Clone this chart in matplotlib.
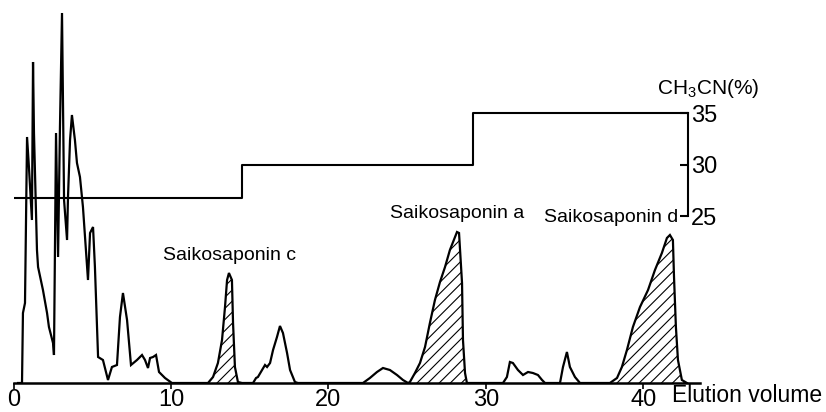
import matplotlib
matplotlib.use("Agg")
import matplotlib.pyplot as plt
import numpy as np

plt.rcParams.update({
    "font.family": ["Liberation Sans", "DejaVu Sans"],
    "mathtext.fontset": "custom",
    "mathtext.rm": "Liberation Sans",
    "hatch.linewidth": 0.8,
})
NARROW = ["Liberation Sans Narrow", "Liberation Sans", "DejaVu Sans"]

# --- chromatogram segments (elution volume, detector response) ---
early_vol = [0.29, 0.54, 0.60, 0.73, 0.86, 0.98, 1.17, 1.24, 1.30, 1.49, 1.56, 1.87,
             2.13, 2.25, 2.51, 2.57, 2.70, 2.83, 2.95, 3.08, 3.21, 3.40, 3.46, 3.59,
             3.71, 3.90, 4.03, 4.22, 4.41, 4.73, 4.86, 5.05, 5.17, 5.37, 5.68, 6.00,
             6.25, 6.57, 6.76, 6.95, 7.21, 7.46, 7.84, 8.16, 8.35, 8.54, 8.67, 8.86,
             9.05, 9.24, 9.62, 10.06]
early_int = [0, 0, 70, 80, 246, 216, 163, 321, 250, 133, 116, 93,
             70, 56, 40, 28, 250, 126, 256, 370, 183, 143, 186, 243,
             268, 243, 220, 206, 176, 103, 150, 156, 116, 26, 23, 3,
             16, 18, 66, 90, 63, 18, 23, 28, 23, 15, 25, 26,
             28, 11, 5, 0]

sc_vol = [12.35, 12.67, 12.98, 13.24, 13.43, 13.56, 13.68, 13.87, 13.94, 14.06, 14.25, 14.51]
sc_int = [0, 6, 20, 43, 76, 103, 110, 103, 60, 16, 1, 0]

p17_vol = [15.21, 15.40, 15.52, 15.78, 15.97, 16.10, 16.29, 16.48, 16.73, 16.92,
           17.11, 17.37, 17.56, 17.87, 18.06]
p17_int = [0, 5, 6, 13, 18, 16, 20, 33, 46, 57, 50, 30, 13, 1, 0]

p23_vol = [22.19, 22.63, 23.08, 23.46, 23.90, 24.35, 24.73, 25.05]
p23_int = [0, 5, 11, 15, 13, 8, 3, 0]

sa_vol = [25.05, 25.17, 25.49, 25.81, 26.13, 26.44, 26.76, 27.08, 27.40, 27.71,
          28.03, 28.16, 28.29, 28.48, 28.54, 28.67, 28.79]
sa_int = [0, 1, 10, 20, 36, 60, 83, 101, 116, 133, 146, 151, 150, 100, 43, 10, 0]

p32_vol = [31.08, 31.33, 31.52, 31.71, 32.03, 32.35, 32.67, 32.98, 33.30, 33.56, 33.75]
p32_int = [0, 6, 21, 20, 13, 8, 11, 10, 8, 3, 0]

p35_vol = [34.70, 34.89, 35.14, 35.33, 35.65, 35.97]
p35_int = [0, 16, 31, 16, 6, 0]

sd_vol = [37.87, 38.32, 38.63, 38.95, 39.33, 39.78, 40.29, 40.73, 41.17, 41.49,
          41.68, 41.87, 41.94, 42.06, 42.19, 42.44, 42.76]
sd_int = [0, 5, 16, 33, 56, 76, 93, 113, 130, 145, 148, 143, 106, 56, 23, 3, 0]

# --- CH3CN step gradient ---
step_vol = [0, 14.5, 29.2, 42.83]
step_pct = [26.7, 30, 35, 35]

x_ticks = [0, 10, 20, 30, 40]
pct_ticks = [25, 30, 35]

segments = [(early_vol, early_int), (sc_vol, sc_int), (p17_vol, p17_int),
            (p23_vol, p23_int), (sa_vol, sa_int), (p32_vol, p32_int),
            (p35_vol, p35_int), (sd_vol, sd_int)]
hatched = [(sc_vol, sc_int), (sa_vol, sa_int), (sd_vol, sd_int)]

fig = plt.figure(figsize=(8.26, 4.12), dpi=100)
ax = fig.add_axes([13.5 / 826, 29 / 412, 686.5 / 826, 373 / 412])

for v, i in hatched:
    ax.fill_between(v, 0, i, facecolor="white", edgecolor="black", hatch="///", linewidth=0)

trace_v = np.concatenate([v for v, _ in segments])
trace_i = np.concatenate([i for _, i in segments])
ax.plot(trace_v, trace_i, color="black", linewidth=1.6, solid_joinstyle="miter")

ax.set_xlim(0, 43.59)
ax.set_ylim(0, 373)
for s in ("top", "right", "left"):
    ax.spines[s].set_visible(False)
ax.spines["bottom"].set_linewidth(1.8)
ax.set_yticks([])
ax.set_xticks(x_ticks)
ax.set_xticklabels([str(t) for t in x_ticks], family=NARROW, fontsize=17)
ax.tick_params(axis="x", direction="out", length=4, width=1.2, pad=0)

ax.text(41.8, -13, "Elution volume", fontsize=16.5, ha="left", va="center", clip_on=False)
ax.text(9.5, 128, "Saikosaponin c", fontsize=14, ha="left", va="center")
ax.text(23.9, 170, "Saikosaponin a", fontsize=14, ha="left", va="center")
ax.text(42.2, 166, "Saikosaponin d", fontsize=14, ha="right", va="center")

# right axis for CH3CN %
ax2 = ax.twinx()
ax2.set_ylim(25 - 167 / 10.3, 25 + 206 / 10.3)
ax2.step(step_vol, step_pct, where="post", color="black", linewidth=1.5)
for s in ("top", "left", "bottom"):
    ax2.spines[s].set_visible(False)
ax2.spines["right"].set_position(("data", 42.83))
ax2.spines["right"].set_bounds(25, 35)
ax2.spines["right"].set_linewidth(1.5)
ax2.set_yticks(pct_ticks)
ax2.set_yticklabels([str(t) for t in pct_ticks], family=NARROW, fontsize=17)
ax2.tick_params(axis="y", direction="in", length=6, width=1.5, pad=2)
ax2.text(40.86, 37.4, r"$\mathrm{CH_3CN(\%)}$", fontsize=15, ha="left", va="center")

fig.savefig("out.png", dpi=100)
